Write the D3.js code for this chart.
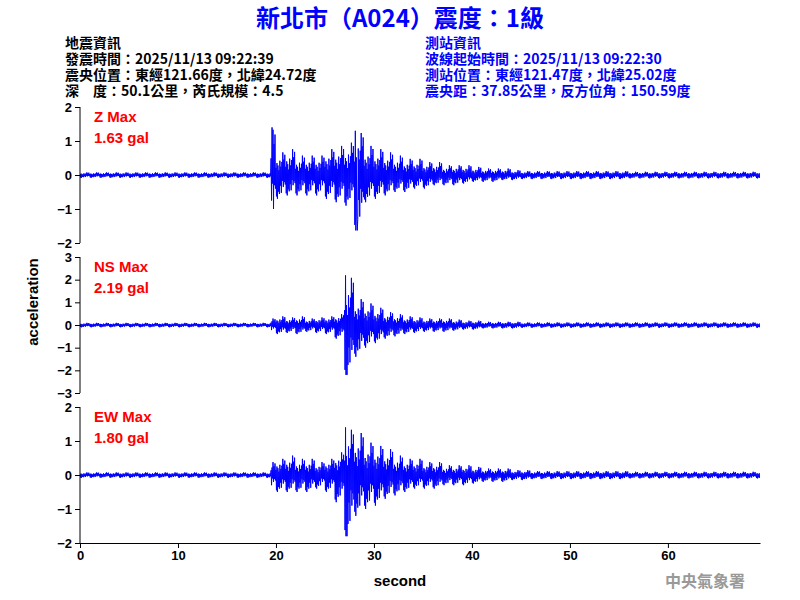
<!DOCTYPE html>
<html>
<head>
<meta charset="utf-8">
<title>新北市 A024</title>
<script src="https://cdnjs.cloudflare.com/ajax/libs/d3/7.6.1/d3.min.js"></script>
<style>
  body { margin:0; background:#fff; }
  text { font-family: "Liberation Sans", Arial, sans-serif; }
  .cjk { font-family: "Noto Sans CJK TC", sans-serif; }
</style>
</head>
<body>
<svg width="800" height="600"></svg>
<script>

// peak amplitude (gal) per second, 0..69 s
let zUp   = [.08,.08,.08,.08,.08,.08,.08,.08,.08,.08,.08,.08,.08,.08,.08,.08,.08,.08,.08,1.4,.7,.8,.6,.6,.6,.8,.9,1.0,1.3,.9,.8,.7,.6,.5,.5,.4,.4,.3,.3,.3,.25,.2,.2,.2,.15,.12,.12,.12,.12,.12,.12,.12,.12,.12,.12,.12,.1,.1,.1,.1,.1,.1,.1,.1,.1,.1,.1,.1,.1,.1];
let zDown = [.08,.08,.08,.08,.08,.08,.08,.08,.08,.08,.08,.08,.08,.08,.08,.08,.08,.08,.08,1.0,.7,.6,.6,.6,.6,.7,.8,.9,1.63,.8,.7,.6,.5,.5,.4,.4,.3,.3,.3,.25,.2,.2,.2,.15,.15,.12,.12,.12,.12,.12,.12,.12,.12,.12,.12,.12,.1,.1,.1,.1,.1,.1,.1,.1,.1,.1,.1,.1,.1,.1];
let nsUp  = [.1,.1,.1,.1,.1,.1,.1,.1,.1,.1,.1,.1,.1,.1,.1,.1,.1,.1,.1,.3,.4,.35,.4,.3,.35,.4,.5,2.19,1.2,1.0,.8,.6,.5,.4,.35,.3,.3,.3,.25,.2,.2,.15,.15,.15,.15,.12,.12,.12,.12,.12,.12,.12,.12,.12,.12,.12,.12,.12,.12,.12,.12,.12,.12,.12,.12,.12,.12,.12,.12,.12];
let nsDown= [.1,.1,.1,.1,.1,.1,.1,.1,.1,.1,.1,.1,.1,.1,.1,.1,.1,.1,.1,.3,.4,.35,.4,.3,.35,.4,.6,2.2,1.4,1.0,.8,.6,.5,.4,.35,.3,.3,.3,.25,.2,.2,.15,.15,.15,.15,.12,.12,.12,.12,.12,.12,.12,.12,.12,.12,.12,.12,.12,.12,.12,.12,.12,.12,.12,.12,.12,.12,.12,.12,.12];
let ewUp  = [.08,.08,.08,.08,.08,.08,.08,.08,.08,.08,.08,.08,.08,.08,.08,.08,.08,.08,.08,.4,.5,.6,.5,.5,.4,.5,.7,1.4,1.3,1.0,.9,.8,.6,.5,.5,.4,.4,.3,.3,.3,.25,.2,.2,.2,.15,.15,.12,.12,.12,.12,.12,.12,.12,.12,.12,.12,.1,.1,.1,.1,.1,.1,.1,.1,.1,.1,.1,.1,.1,.1];
let ewDown= [.08,.08,.08,.08,.08,.08,.08,.08,.08,.08,.08,.08,.08,.08,.08,.08,.08,.08,.08,.4,.5,.5,.5,.5,.4,.5,.8,1.8,1.2,1.0,.9,.7,.6,.5,.4,.4,.4,.3,.3,.3,.25,.2,.2,.2,.15,.15,.12,.12,.12,.12,.12,.12,.12,.12,.12,.12,.1,.1,.1,.1,.1,.1,.1,.1,.1,.1,.1,.1,.1,.1];
// within-second wiggle shape (fraction of peak), 20 samples per second
let wiggle = [.3,.9,.5,1.0,.4,.7,.2,.8,.6,.45,.35,.75,.55,.25,.95,.5,.65,.3,.85,.4];

let xTicks = [0,10,20,30,40,50,60];
let channels = [
  {name:'Z Max',  peak:'1.63 gal', up:zUp,  down:zDown,  lim:2, ticks:[-2,-1,0,1,2],       top:107, bot:243},
  {name:'NS Max', peak:'2.19 gal', up:nsUp, down:nsDown, lim:3, ticks:[-3,-2,-1,0,1,2,3], top:257, bot:393},
  {name:'EW Max', peak:'1.80 gal', up:ewUp, down:ewDown, lim:2, ticks:[-2,-1,0,1,2],       top:407, bot:543}
];

let leftInfo = ['地震資訊', '發震時間：2025/11/13 09:22:39', '震央位置：東經121.66度，北緯24.72度', '深　度：50.1公里，芮氏規模：4.5'];
let rightInfo = ['測站資訊', '波線起始時間：2025/11/13 09:22:30', '測站位置：東經121.47度，北緯25.02度', '震央距：37.85公里，反方位角：150.59度'];

let svg = d3.select('svg');
let x = d3.scaleLinear().domain([0, 69.4]).range([80, 760]);

svg.append('clipPath').attr('id', 'clip').append('rect')
  .attr('x', 80).attr('y', 100).attr('width', 680).attr('height', 450);

channels.forEach((ch, ci) => {
  let y = d3.scaleLinear().domain([-ch.lim, ch.lim]).range([ch.bot, ch.top]);
  let pts = [];
  ch.up.forEach((u, s) => {
    wiggle.forEach((w, k) => {
      let up = u, dn = ch.down[s];
      if (s === 19 && k < 10) { up = ch.up[18]; dn = ch.down[18]; }
      let v = k % 2 === 0 ? up * w : -dn * w;
      if (ci === 0 && s === 28 && k === 6) v = -dn;
      if (ci === 0 && s === 28 && k === 2) v = up;
      if (ci === 0 && s === 19 && k === 12) v = up;
      if (ci === 0 && s === 19 && k === 15) v = -dn;
      if (ci > 0 && s === 27 && k === 5) v = -dn;
      if (ci > 0 && s === 27 && k === 2) v = up;
      pts.push([s + k / 20, v]);
    });
  });
  svg.append('path')
    .attr('clip-path', 'url(#clip)')
    .attr('d', d3.line().x(d => x(d[0])).y(d => y(d[1]))(pts))
    .attr('fill', 'none').attr('stroke', '#0000ff').attr('stroke-width', 1);

  let ax = svg.append('g').attr('transform', 'translate(80,0)')
    .call(d3.axisLeft(y).tickValues(ch.ticks).tickSize(5).tickFormat(d3.format('d')));
  ax.select('.domain').attr('d', `M-0,${ch.top}V${ch.bot}`);
  ax.selectAll('text').attr('font-size', 13).attr('font-weight', 'bold').attr('fill', '#000');

  svg.append('text').attr('x', 94).attr('y', ch.top + 15).attr('fill', '#ff0000')
    .attr('font-size', 15).attr('font-weight', 'bold').text(ch.name);
  svg.append('text').attr('x', 94).attr('y', ch.top + 36).attr('fill', '#ff0000')
    .attr('font-size', 15).attr('font-weight', 'bold').text(ch.peak);
});

let xa = svg.append('g').attr('transform', 'translate(0,543)')
  .call(d3.axisBottom(x).tickValues(xTicks).tickSize(5).tickSizeOuter(0));
xa.selectAll('text').attr('font-size', 13).attr('font-weight', 'bold').attr('fill', '#000');

svg.append('text').attr('x', 400).attr('y', 586).attr('text-anchor', 'middle')
  .attr('font-size', 15).attr('font-weight', 'bold').text('second');
svg.append('text').attr('transform', 'translate(38,302) rotate(-90)').attr('text-anchor', 'middle')
  .attr('font-size', 15).attr('font-weight', 'bold').text('acceleration');

svg.append('text').attr('class', 'cjk').attr('x', 400).attr('y', 27).attr('text-anchor', 'middle')
  .attr('font-size', 24).attr('font-weight', 'bold').attr('fill', '#0000ff')
  .text('新北市（A024）震度：1級');

leftInfo.forEach((t, i) => svg.append('text').attr('class', 'cjk').attr('x', 65).attr('y', 48 + i * 16)
  .attr('font-size', 14).attr('font-weight', 'bold').attr('fill', '#000').text(t));
rightInfo.forEach((t, i) => svg.append('text').attr('class', 'cjk').attr('x', 425).attr('y', 48 + i * 16)
  .attr('font-size', 14).attr('font-weight', 'bold').attr('fill', '#0000ff').text(t));

svg.append('text').attr('class', 'cjk').attr('x', 745).attr('y', 587).attr('text-anchor', 'end')
  .attr('font-size', 16).attr('font-weight', 'bold').attr('fill', '#999').text('中央氣象署');
</script>
</body>
</html>
